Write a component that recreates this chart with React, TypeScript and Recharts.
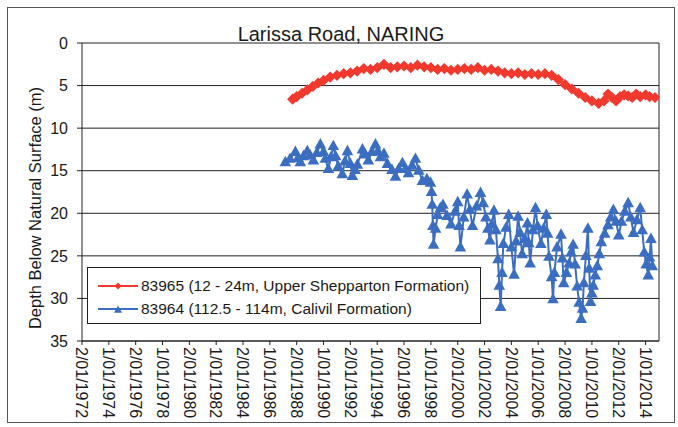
import { LineChart, Line, XAxis, YAxis, CartesianGrid, Legend, ReferenceLine } from 'recharts';

const title = 'Larissa Road, NARING';
const yTitle = 'Depth Below Natural Surface (m)';

const xTicks = [1972, 1974, 1976, 1978, 1980, 1982, 1984, 1986, 1988, 1990, 1992, 1994, 1996, 1998, 2000, 2002, 2004, 2006, 2008, 2010, 2012, 2014];
const xTickLabels = [
  '2/01/1972', '1/01/1974', '2/01/1976', '1/01/1978', '2/01/1980', '1/01/1982', '2/01/1984', '1/01/1986',
  '2/01/1988', '1/01/1990', '2/01/1992', '1/01/1994', '2/01/1996', '1/01/1998', '2/01/2000', '1/01/2002',
  '2/01/2004', '1/01/2006', '2/01/2008', '1/01/2010', '2/01/2012', '1/01/2014',
];
const yTicks = [0, 5, 10, 15, 20, 25, 30, 35];

// bore 83965 (shallow)
const shallowName = '83965 (12 - 24m, Upper Shepparton Formation)';
const shallowYears = [
  1987.7, 1988.0, 1988.4, 1988.8, 1989.2, 1989.6, 1990.0, 1990.5, 1991.0, 1991.5,
  1992.0, 1992.5, 1993.0, 1993.5, 1994.0, 1994.5, 1995.0, 1995.5, 1996.0, 1996.5,
  1997.0, 1997.5, 1998.0, 1998.5, 1999.0, 1999.5, 2000.0, 2000.5, 2001.0, 2001.5,
  2002.0, 2002.5, 2003.0, 2003.5, 2004.0, 2004.5, 2005.0, 2005.5, 2006.0, 2006.5,
  2007.0, 2007.5, 2008.0, 2008.5, 2009.0, 2009.5, 2010.0, 2010.5, 2010.9, 2011.2,
  2011.5, 2011.8, 2012.1, 2012.4, 2012.7, 2013.0, 2013.3, 2013.6, 2014.0, 2014.3, 2014.7,
];
const shallowDepth = [
  6.6, 6.3, 5.9, 5.5, 5.1, 4.7, 4.4, 4.0, 3.8, 3.6,
  3.5, 3.3, 3.0, 3.1, 2.9, 2.5, 2.9, 2.8, 2.7, 2.9,
  2.6, 2.8, 2.9, 3.1, 3.0, 3.2, 3.1, 3.0, 3.1, 2.9,
  3.2, 3.1, 3.3, 3.5, 3.6, 3.5, 3.7, 3.6, 3.7, 3.6,
  3.8, 4.3, 4.9, 5.4, 5.9, 6.4, 6.8, 7.1, 6.8, 6.0,
  6.4, 6.8, 6.3, 6.1, 6.2, 6.4, 6.0, 6.3, 6.1, 6.3, 6.4,
];

// bore 83964 (deep)
const deepName = '83964 (112.5 - 114m, Calivil Formation)';
const deepYears = [
  1987.15, 1987.5, 1987.9, 1988.1, 1988.27, 1988.5, 1988.79, 1989.0, 1989.24, 1989.5,
  1989.76, 1990.0, 1990.13, 1990.36, 1990.55, 1990.73, 1990.9, 1991.1, 1991.4, 1991.6,
  1991.78, 1992.0, 1992.15, 1992.35, 1992.52, 1992.9, 1993.1, 1993.34, 1993.6, 1993.87,
  1994.05, 1994.24, 1994.5, 1994.76, 1995.1, 1995.36, 1995.6, 1995.88, 1996.1, 1996.33,
  1996.6, 1996.85, 1997.1, 1997.37, 1997.7, 1997.97, 1998.05, 1998.1, 1998.15, 1998.2,
  1998.35, 1998.5, 1998.7, 1998.9, 1999.2, 1999.5, 1999.8, 2000.0, 2000.1, 2000.2,
  2000.45, 2000.7, 2000.9, 2001.1, 2001.4, 2001.7, 2001.9, 2002.1, 2002.25, 2002.4,
  2002.55, 2002.7, 2002.85, 2003.0, 2003.1, 2003.2, 2003.3, 2003.4, 2003.6, 2003.8,
  2004.0, 2004.2, 2004.35, 2004.5, 2004.65, 2004.8, 2005.0, 2005.2, 2005.3, 2005.4,
  2005.6, 2005.8, 2005.95, 2006.2, 2006.4, 2006.6, 2006.7, 2006.8, 2007.0, 2007.1,
  2007.2, 2007.4, 2007.7, 2007.8, 2007.9, 2008.1, 2008.3, 2008.45, 2008.6, 2008.75,
  2008.9, 2009.05, 2009.2, 2009.3, 2009.4, 2009.55, 2009.7, 2009.8, 2009.9, 2010.0,
  2010.1, 2010.25, 2010.4, 2010.55, 2010.7, 2010.95, 2011.2, 2011.4, 2011.6, 2011.8,
  2012.0, 2012.2, 2012.45, 2012.7, 2012.9, 2013.1, 2013.35, 2013.6, 2013.75, 2013.9,
  2014.05, 2014.2, 2014.3, 2014.4, 2014.5,
];
const deepDepth = [
  14.0, 13.6, 12.8, 13.5, 14.0, 13.3, 12.7, 13.2, 13.8, 12.9,
  11.9, 12.8, 13.6, 14.8, 13.4, 12.1, 13.3, 14.5, 15.4, 13.9,
  12.7, 14.2, 15.6, 14.9, 14.3, 12.5, 13.1, 13.8, 12.8, 11.9,
  12.7, 13.4, 13.0, 14.2, 14.9, 15.7, 14.8, 14.1, 14.8, 15.3,
  14.4, 13.6, 15.0, 16.2, 16.0, 16.4, 17.5, 19.0, 21.5, 23.7,
  21.8, 20.2, 19.4, 19.0, 20.3, 21.3, 19.8, 18.7, 21.5, 24.0,
  20.5, 17.8, 19.6, 21.5, 19.2, 17.6, 18.8, 20.5, 21.8, 23.2,
  21.3, 19.7, 22.0, 25.4, 28.5, 31.0, 27.0, 23.6, 21.7, 20.2,
  24.0, 27.2, 23.3, 20.4, 22.3, 24.8, 23.0, 21.2, 23.5, 25.9,
  22.0, 19.4, 21.5, 23.6, 21.8, 20.2, 22.4, 25.1, 27.5, 30.1,
  27.0, 24.0, 22.5, 25.3, 28.2, 27.0, 25.9, 24.6, 23.7, 26.0,
  28.6, 30.5, 32.4, 31.2, 28.2, 25.0, 21.8, 26.5, 30.4, 29.4,
  28.5, 27.3, 26.2, 24.8, 23.4, 22.4, 21.4, 20.5, 19.6, 21.0,
  22.6, 21.0, 19.8, 18.8, 20.5, 22.3, 20.8, 19.4, 22.0, 24.6,
  26.0, 27.3, 25.2, 23.0, 26.2,
];

const RED = '#F2392E';
const BLUE = '#3B6EC0';
const INK = '#1a1a1a';
const FONT = '"Liberation Sans", Arial, sans-serif';

const shallowData = shallowYears.map((year, i) => ({ year, depth: shallowDepth[i] }));
const deepData = deepYears.map((year, i) => ({ year, depth: deepDepth[i] }));

const diamondPath = (cx: number, cy: number, r: number) =>
  `M${cx},${cy - r}L${cx + r},${cy}L${cx},${cy + r}L${cx - r},${cy}Z`;
const trianglePath = (cx: number, cy: number, r: number) =>
  `M${cx},${cy - r * 1.1}L${cx + r},${cy + r * 0.7}L${cx - r},${cy + r * 0.7}Z`;

const DiamondDot = (props: any) => {
  const { cx, cy, index } = props;
  if (cx == null || cy == null) return <g key={`d${index}`} />;
  return <path key={`d${index}`} d={diamondPath(cx, cy, 5.6)} fill={RED} />;
};

const TriangleDot = (props: any) => {
  const { cx, cy, index } = props;
  if (cx == null || cy == null) return <g key={`t${index}`} />;
  return <path key={`t${index}`} d={trianglePath(cx, cy, 5.8)} fill={BLUE} />;
};

const XTick = ({ x, y, payload }: any) => {
  const i = xTicks.indexOf(payload.value);
  return (
    <text x={x} y={y} dy="0.36em" transform={`rotate(90 ${x} ${y})`} textAnchor="start"
      fontSize={16} fill={INK} fontFamily={FONT}>
      {xTickLabels[i]}
    </text>
  );
};

const legendOrder = [shallowName, deepName];

const LegendBox = ({ payload }: any) => {
  const items = [...(payload || [])].sort(
    (a: any, b: any) => legendOrder.indexOf(a.value) - legendOrder.indexOf(b.value),
  );
  return (
    <div style={{
      border: '1px solid #222', background: '#fff', width: 394, height: 57, boxSizing: 'border-box',
      padding: '6px 0 0 9px', fontFamily: FONT, fontSize: 15.5, color: INK,
    }}>
      {items.map((entry: any) => {
        const isShallow = entry.value === shallowName;
        const c = isShallow ? RED : BLUE;
        return (
          <div key={entry.value} style={{ display: 'flex', alignItems: 'center', height: 23 }}>
            <svg width={42} height={14} style={{ marginRight: 2 }}>
              <line x1={1} y1={7} x2={41} y2={7} stroke={c} strokeWidth={2} />
              <path d={isShallow ? diamondPath(21, 7, 3.5) : trianglePath(21, 8, 4)} fill={c} />
            </svg>
            <span>{entry.value}</span>
          </div>
        );
      })}
    </div>
  );
};

export default function App() {
  return (
    <div style={{ position: 'fixed', left: 0, top: 0, width: 678, height: 427, background: '#fff', fontFamily: FONT, overflow: 'hidden' }}>
      <div style={{ position: 'absolute', left: 7, top: 7, width: 666, height: 414, border: '1px solid #555' }} />
      <div style={{ position: 'absolute', left: 0, top: 23, width: 682, textAlign: 'center', fontSize: 20, color: INK }}>
        {title}
      </div>
      <div style={{ position: 'absolute', left: 0, top: 0 }}>
        <LineChart width={678} height={427} margin={{ top: 43, right: 19, bottom: 0, left: 0 }}>
          <CartesianGrid vertical={false} stroke="#222" />
          <XAxis type="number" dataKey="year" domain={[1972, 2015]} ticks={xTicks} interval={0}
            allowDataOverflow height={86} tick={<XTick />} tickSize={4} tickMargin={2}
            axisLine={{ stroke: '#222' }} tickLine={{ stroke: '#222' }} />
          <YAxis type="number" reversed domain={[0, 35]} ticks={yTicks} interval={0} width={82}
            tickSize={5} tickMargin={9} axisLine={{ stroke: '#222' }} tickLine={{ stroke: '#222' }}
            tick={{ fontSize: 16, fill: INK, fontFamily: FONT }}
            label={{
              content: () => (
                <text x={35} y={208} transform="rotate(-90 35 208)" textAnchor="middle"
                  dominantBaseline="central" fontSize={16.5} fill={INK} fontFamily={FONT}>
                  {yTitle}
                </text>
              ),
            }} />
          <ReferenceLine x={2015} stroke="#222" />
          <Line data={shallowData} dataKey="depth" name={shallowName} type="linear" stroke={RED}
            strokeWidth={3} dot={DiamondDot} activeDot={false} isAnimationActive={false} />
          <Line data={deepData} dataKey="depth" name={deepName} type="linear" stroke={BLUE}
            strokeWidth={2} dot={TriangleDot} activeDot={false} isAnimationActive={false} />
          <Legend layout="vertical" align="center" verticalAlign="middle" content={<LegendBox />}
            wrapperStyle={{ left: 87, top: 267, width: 394, height: 57 }} />
        </LineChart>
      </div>
    </div>
  );
}
